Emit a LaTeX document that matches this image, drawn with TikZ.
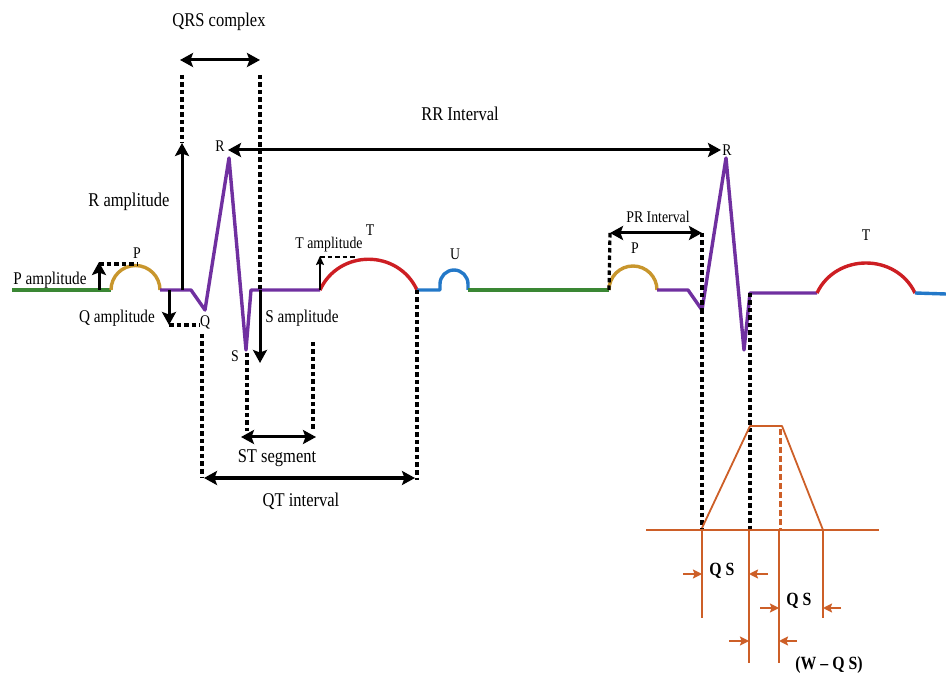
\documentclass[tikz,border=0pt]{standalone}
\usepackage{fontspec}
\usepackage{graphicx}
\setmainfont{Liberation Serif}
\usetikzlibrary{arrows.meta}
\definecolor{ecggreen}{RGB}{58,135,52}
\definecolor{ecggold}{RGB}{200,150,45}
\definecolor{ecgpurple}{RGB}{112,48,160}
\definecolor{ecgred}{RGB}{205,30,35}
\definecolor{ecgblue}{RGB}{35,120,200}
\definecolor{qsorange}{RGB}{205,95,40}
\newcommand{\vst}[1]{\scalebox{1}[1.18]{#1}}
\tikzset{
  ecg/.style={line width=3.4pt, line join=round},
  dline/.style={line width=3.2pt, dash pattern=on 4.5pt off 3pt},
  bhead/.tip={Stealth[length=13pt,width=14pt,inset=2.5pt]},
  dimarrow/.style={line width=3pt, -bhead},
  dimboth/.style={line width=3pt, bhead-bhead},
  thinarrow/.style={line width=1.6pt, -{Stealth[length=9pt,width=8pt,inset=1.5pt]}},
  oline/.style={qsorange, line width=1.8pt},
  odash/.style={qsorange, line width=3pt, dash pattern=on 6pt off 3pt},
  oarrow/.style={qsorange, line width=1.8pt, -{Stealth[length=9pt,width=9pt,inset=1.5pt]}},
  bigl/.style={font=\fontsize{16.5}{18}\selectfont, inner sep=0pt},
  midl/.style={font=\fontsize{15.2}{17}\selectfont, inner sep=0pt},
  smalll/.style={font=\fontsize{13.8}{15}\selectfont, inner sep=0pt},
  boldl/.style={font=\fontsize{15.8}{17}\selectfont\bfseries, inner sep=0pt},
}
\begin{document}
\begin{tikzpicture}[x=1pt,y=-1pt]
\useasboundingbox (0,0) rectangle (946,676);
% ---------- ECG points ----------
\coordinate (e0) at (12,290);
\coordinate (p1a) at (111,290);
\coordinate (p1b) at (160,290);
\coordinate (q1a) at (191,290);
\coordinate (Q1) at (205,310);
\coordinate (R1) at (229,158);
\coordinate (S1) at (246,350);
\coordinate (s1b) at (251,290);
\coordinate (t1a) at (320,290);
\coordinate (t1b) at (417,290);
\coordinate (u1a) at (440,290);
\coordinate (u1b) at (468,290);
\coordinate (p2a) at (609,290);
\coordinate (p2b) at (657,290);
\coordinate (q2a) at (688,290);
\coordinate (Q2) at (702,310);
\coordinate (R2) at (726,158);
\coordinate (S2) at (744,350);
\coordinate (s2b) at (750,293);
\coordinate (t2a) at (817,293);
\coordinate (t2b) at (915,293);
\coordinate (e1) at (946,294);
% ---------- ECG trace ----------
\draw[ecg, ecggreen] (e0) -- (p1a);
\draw[ecg, ecggold] (p1a) .. controls (111,276.5) and (122,265.5) .. (135.5,265.5)
                          .. controls (149,265.5) and (160,276.5) .. (p1b);
\draw[ecg, ecgpurple] (p1b) -- (q1a) -- (Q1) -- (R1) -- (S1) -- (s1b) -- (t1a);
\draw[ecg, ecgred] (t1a) .. controls (339,249) and (398,249) .. (t1b);
\draw[ecg, ecgblue] (t1b) -- (u1a) -- (440,284) .. controls (440,276.3) and (446.3,270) .. (454,270)
                          .. controls (461.7,270) and (468,276.3) .. (468,284) -- (u1b);
\draw[ecg, ecggreen] (u1b) -- (p2a);
\draw[ecg, ecggold] (p2a) .. controls (609,276.7) and (619.7,266) .. (633,266)
                          .. controls (646.3,266) and (657,276.7) .. (p2b);
\draw[ecg, ecgpurple] (p2b) -- (q2a) -- (Q2) -- (R2) -- (S2) -- (s2b) -- (t2a);
\draw[ecg, ecgred] (t2a) .. controls (836,253) and (896,253) .. (t2b);
\draw[ecg, ecgblue] (t2b) -- (e1);
% ---------- wave labels ----------
\node[smalll] (lP1) at (137,253) {\vst{P}};
\node[smalll] (lQ1) at (205,322) {\vst{Q}};
\node[smalll] (lR1) at (220,146) {\vst{R}};
\node[smalll] (lS1) at (235,356) {\vst{S}};
\node[smalll] (lT1) at (370,230) {\vst{T}};
\node[smalll] (lU) at (455,254) {\vst{U}};
\node[smalll] (lP2) at (635,248) {\vst{P}};
\node[smalll] (lR2) at (727,150) {\vst{R}};
\node[smalll] (lT2) at (866,235) {\vst{T}};
% ---------- QRS complex ----------
\node[bigl] (lqrs) at (219,22) {\vst{QRS complex}};
\coordinate (qrsL) at (180,60);
\coordinate (qrsR) at (260,60);
\draw[dimboth] (qrsL) -- (qrsR);
\coordinate (dqL) at (182,75);
\coordinate (ramp) at (182,143);
\coordinate (ramp0) at (182,290);
\draw[dline] (dqL) -- (ramp);
\draw[dimarrow] (ramp0) -- (ramp);
\node[bigl] (lramp) at (129,202) {\vst{R amplitude}};
\coordinate (dqR) at (260,75);
\coordinate (samp0) at (260,290);
\coordinate (samp) at (260,363);
\draw[dline] (dqR) -- (samp0);
\draw[dimarrow] (samp0) -- (samp);
\node[midl] (lsamp) at (302,318) {\vst{S amplitude}};
% ---------- RR interval ----------
\node[bigl] (lrr) at (460,114) {\vst{RR Interval}};
\coordinate (rrL) at (228,150);
\coordinate (rrR) at (721,150);
\draw[dimboth] (rrL) -- (rrR);
% ---------- P amplitude ----------
\coordinate (pamp0) at (99,290);
\coordinate (pamp) at (99,262);
\coordinate (pampd) at (137,264);
\draw[dimarrow] (pamp0) -- (pamp);
\draw[dline] (99,264) -- (pampd);
\node[midl] (lpamp) at (50,280) {\vst{P amplitude}};
% ---------- Q amplitude ----------
\coordinate (qamp0) at (169,290);
\coordinate (qamp) at (169,325);
\coordinate (qampd) at (200,325);
\draw[dimarrow] (qamp0) -- (qamp);
\draw[dline] (169,325) -- (qampd);
\node[midl] (lqamp) at (117,318) {\vst{Q amplitude}};
% ---------- T amplitude ----------
\coordinate (tamp0) at (320,290);
\coordinate (tamp) at (320,256);
\coordinate (tampd) at (357,257);
\draw[thinarrow] (tamp0) -- (tamp);
\draw[line width=2.8pt, dash pattern=on 4.5pt off 3pt] (320,257) -- (tampd);
\node[smalll] (ltamp) at (329,245) {\vst{T amplitude}};
% ---------- ST segment ----------
\coordinate (stL0) at (247,353);
\coordinate (stL) at (247,431);
\coordinate (stR0) at (313,342);
\coordinate (stR) at (313,431);
\draw[dline] (stL0) -- (stL);
\draw[dline] (stR0) -- (stR);
\coordinate (stA) at (241,437);
\coordinate (stB) at (316,437);
\draw[dimboth] (stA) -- (stB);
\node[bigl] (lst) at (277,458) {\vst{ST segment}};
% ---------- QT interval ----------
\coordinate (qtL0) at (202,334);
\coordinate (qtL) at (202,478);
\coordinate (qtR) at (417,480);
\draw[dline] (qtL0) -- (qtL);
\draw[dline] (t1b) -- (qtR);
\coordinate (qtA) at (204,478);
\coordinate (qtB) at (415,478);
\draw[dimboth] (qtA) -- (qtB);
\node[bigl] (lqt) at (301,501) {\vst{QT interval}};
% ---------- PR interval ----------
\node[smalll] (lpr) at (658,217) {\vst{PR Interval}};
\coordinate (prL) at (610,233);
\coordinate (prR) at (702,233);
\draw[dline] (prL) -- (p2a);
\draw[dline] (prR) -- (Q2);
\draw[dimboth] (prL) -- (prR);
% ---------- lower dashed guides ----------
\coordinate (gQ) at (702,529);
\coordinate (gS) at (750,529);
\draw[dline] (Q2) -- (gQ);
\draw[dline] (s2b) -- (gS);
% ---------- trapezoid (QS width) ----------
\coordinate (hL) at (646,530);
\coordinate (hR) at (879,530);
\draw[oline] (hL) -- (hR);
\coordinate (tz1) at (702,528);
\coordinate (tz2) at (750,426);
\coordinate (tz3) at (782,426);
\coordinate (tz4) at (823,530);
\draw[oline, line join=round] (tz1) -- (tz2) -- (tz3) -- (tz4);
\coordinate (od0) at (780,429);
\coordinate (od1) at (780,530);
\draw[odash] (od0) -- (od1);
% vertical drops
\coordinate (v1a) at (702,530); \coordinate (v1b) at (702,618);
\coordinate (v2a) at (749,530); \coordinate (v2b) at (749,663);
\coordinate (v3a) at (779,530); \coordinate (v3b) at (779,663);
\coordinate (v4a) at (823,530); \coordinate (v4b) at (823,618);
\draw[oline] (v1a) -- (v1b);
\draw[oline] (v2a) -- (v2b);
\draw[oline] (v3a) -- (v3b);
\draw[oline] (v4a) -- (v4b);
% width arrows
\coordinate (a1s) at (683,574); \coordinate (a1t) at (702,574);
\coordinate (a2s) at (768,574); \coordinate (a2t) at (749,574);
\draw[oarrow] (a1s) -- (a1t);
\draw[oarrow] (a2s) -- (a2t);
\node[boldl] (lqs1) at (722,571) {\vst{Q S}};
\coordinate (a3s) at (760,608); \coordinate (a3t) at (779,608);
\coordinate (a4s) at (841,608); \coordinate (a4t) at (823,608);
\draw[oarrow] (a3s) -- (a3t);
\draw[oarrow] (a4s) -- (a4t);
\node[boldl] (lqs2) at (799,601) {\vst{Q S}};
\coordinate (a5s) at (729,641); \coordinate (a5t) at (749,641);
\coordinate (a6s) at (797,641); \coordinate (a6t) at (779,641);
\draw[oarrow] (a5s) -- (a5t);
\draw[oarrow] (a6s) -- (a6t);
\node[boldl] (lwqs) at (829,665) {\vst{(W -- Q S)}};
\end{tikzpicture}
\end{document}
